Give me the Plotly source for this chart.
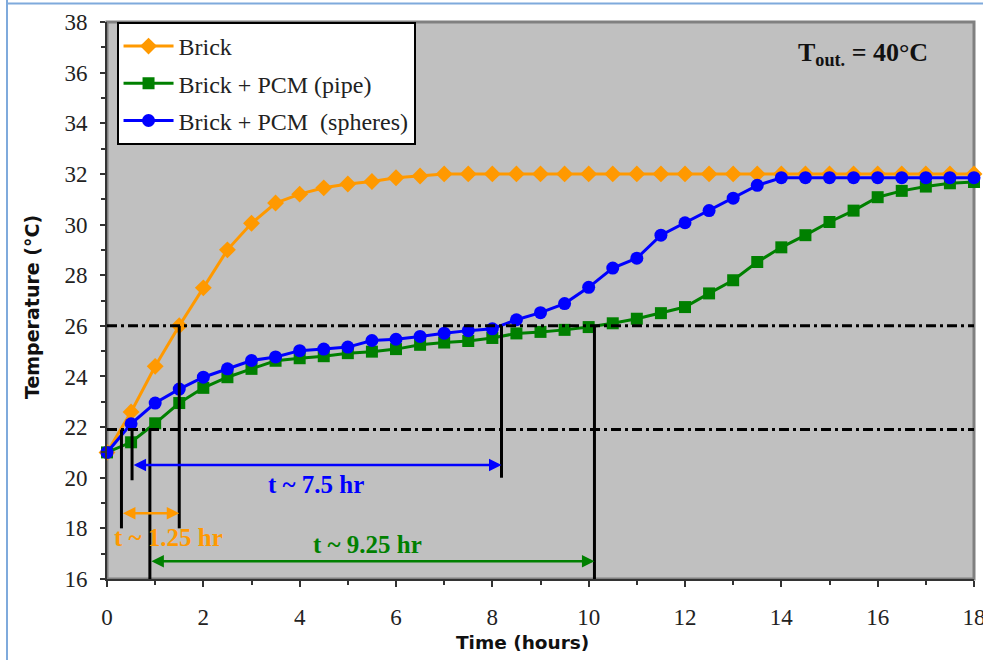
import plotly.graph_objects as go

# ---------------- data ----------------
time_h = [i * 0.5 for i in range(37)]

brick = [21.0, 22.6, 24.4, 26.0, 27.5, 29.0, 30.05, 30.85, 31.2, 31.45, 31.6, 31.7,
         31.85, 31.92, 32.0, 32.0, 32.0, 32.0, 32.0, 32.0, 32.0, 32.0, 32.0, 32.0,
         32.0, 32.0, 32.0, 32.0, 32.0, 32.0, 32.0, 32.0, 32.0, 32.0, 32.0, 32.0, 32.0]

pcm_pipe = [21.0, 21.4, 22.15, 22.95, 23.55, 23.97, 24.3, 24.62, 24.72, 24.8, 24.92, 24.98,
            25.08, 25.25, 25.34, 25.4, 25.52, 25.7, 25.76, 25.84, 25.95, 26.1, 26.28, 26.5,
            26.74, 27.28, 27.8, 28.52, 29.1, 29.58, 30.1, 30.55, 31.08, 31.33, 31.5, 31.63, 31.68]

pcm_spheres = [21.0, 22.13, 22.95, 23.5, 23.97, 24.3, 24.63, 24.77, 25.02, 25.08, 25.16, 25.42,
               25.47, 25.58, 25.71, 25.81, 25.88, 26.24, 26.52, 26.88, 27.52, 28.28, 28.67, 29.58,
               30.07, 30.55, 31.04, 31.55, 31.85, 31.85, 31.85, 31.85, 31.85, 31.85, 31.85, 31.85, 31.85]

series_names = ["Brick", "Brick + PCM (pipe)", "Brick + PCM\u00a0\u00a0(spheres)"]

# reference levels (°C)
ref_levels = [26.0, 21.9]

# vertical markers: (x, y_top, y_bottom)
vlines = [(0.30, 21.9, 18.0), (0.52, 21.9, 19.9), (0.89, 21.9, 16.0),
          (1.50, 26.0, 18.0), (8.19, 26.0, 20.0), (10.12, 26.0, 16.0)]

# duration arrows: (x_start, x_end, y, colour, label, label_x, label_y)
durations = [(0.30, 1.50, 18.6, "#FF9900", "t ~ 1.25 hr", 1.27, 17.62),
             (0.52, 8.19, 20.5, "#0000FF", "t ~ 7.5 hr", 4.33, 19.72),
             (0.89, 10.12, 16.7, "#008000", "t ~ 9.25 hr", 5.40, 17.36)]

serif = "Liberation Serif, Times New Roman, serif"
sans = "DejaVu Sans, Verdana, sans-serif"

fig = go.Figure()
styles = [("#FF9900", "diamond", 13), ("#008000", "square", 12), ("#0000FF", "circle", 13)]
for i, (vals, name) in enumerate(zip([brick, pcm_pipe, pcm_spheres], series_names)):
    col, sym, sz = styles[i]
    fig.add_trace(go.Scatter(
        x=time_h, y=vals, name=name, mode="lines+markers",
        line=dict(color=col, width=3),
        marker=dict(color=col, symbol=sym, size=sz, line=dict(width=0)),
        cliponaxis=False, legendgroup=f"g{i}"))

shapes = []
for lv in ref_levels:
    shapes.append(dict(type="line", xref="x", yref="y", x0=0, x1=18, y0=lv, y1=lv,
                       line=dict(color="black", width=3, dash="10px,4px,3px,4px")))
for (xv, yt, yb) in vlines:
    shapes.append(dict(type="line", xref="x", yref="y", x0=xv, x1=xv, y0=yt, y1=yb,
                       line=dict(color="black", width=3)))
# plot frame (gray)
shapes.append(dict(type="rect", xref="paper", yref="paper", x0=0, x1=1, y0=0, y1=1,
                   line=dict(color="#808080", width=3), layer="below"))
# outer light-blue frame
shapes.append(dict(type="line", xref="paper", yref="paper", x0=-100/867, x1=-100/867,
                   y0=-0.2, y1=1.04, line=dict(color="#7FAADC", width=2)))
shapes.append(dict(type="line", xref="paper", yref="paper", x0=-100/867, x1=1.2,
                   y0=1.033, y1=1.033, line=dict(color="#7FAADC", width=2)))

annotations = []
for (x0, x1, yv, col, lab, lx, ly) in durations:
    annotations.append(dict(x=x1, y=yv, ax=x0, ay=yv, xref="x", yref="y", axref="x", ayref="y",
                            text="", showarrow=True, arrowhead=2, arrowside="end+start",
                            arrowsize=1.0, arrowwidth=2.5, arrowcolor=col, standoff=0, startstandoff=0))
    annotations.append(dict(x=lx, y=ly, xref="x", yref="y", text=f"<b>{lab}</b>", showarrow=False,
                            font=dict(family=serif, size=25, color=col)))
annotations.append(dict(x=15.7, y=36.75, xref="x", yref="y", showarrow=False,
                        text="<b>T<sub>out.</sub> = 40°C</b>",
                        font=dict(family=serif, size=26, color="#111")))
# axis titles
annotations.append(dict(x=(522 - 107) / 867, y=-(642 - 579) / 557, xref="paper", yref="paper",
                        xanchor="center", yanchor="middle",
                        showarrow=False, text="<b>Time (hours)</b>",
                        font=dict(family=sans, size=18.5, color="#111")))
annotations.append(dict(x=(32 - 107) / 867, y=(579 - 307) / 557, xref="paper", yref="paper",
                        xanchor="center", yanchor="middle",
                        showarrow=False, text="<b>Temperature (°C)</b>", textangle=-90,
                        font=dict(family=sans, size=19, color="#111")))

fig.update_layout(
    width=983, height=660, autosize=False,
    margin=dict(l=107, r=9, t=22, b=81),
    paper_bgcolor="white", plot_bgcolor="#C0C0C0",
    shapes=shapes, annotations=annotations,
    showlegend=True,
    legend=dict(x=0.011, y=1.0, xanchor="left", yanchor="top",
                bgcolor="white", bordercolor="black", borderwidth=2,
                font=dict(family=serif, size=24, color="#222"),
                itemwidth=50, tracegroupgap=3, traceorder="grouped"),
    xaxis=dict(range=[0, 18], tick0=0, dtick=2, showgrid=False, zeroline=False,
               showline=True, linecolor="#333", linewidth=2, automargin=False,
               ticks="outside", ticklen=6, tickwidth=2, tickcolor="#333",
               minor=dict(dtick=1, ticks="outside", ticklen=4, tickcolor="#333", tickwidth=1.5),
               tickfont=dict(family=serif, size=23, color="#222"), ticklabelstandoff=10,
               ticklabeloverflow="allow"),
    yaxis=dict(range=[16, 38], tick0=16, dtick=2, showgrid=False, zeroline=False,
               showline=True, linecolor="#333", linewidth=2, automargin=False,
               ticks="outside", ticklen=5, tickwidth=2, tickcolor="#333",
               minor=dict(dtick=1, ticks="outside", ticklen=4, tickcolor="#333", tickwidth=1.5),
               tickfont=dict(family=serif, size=23, color="#222"), ticklabelstandoff=8,
               ticklabeloverflow="allow"),
)

fig.write_html("out.html")
